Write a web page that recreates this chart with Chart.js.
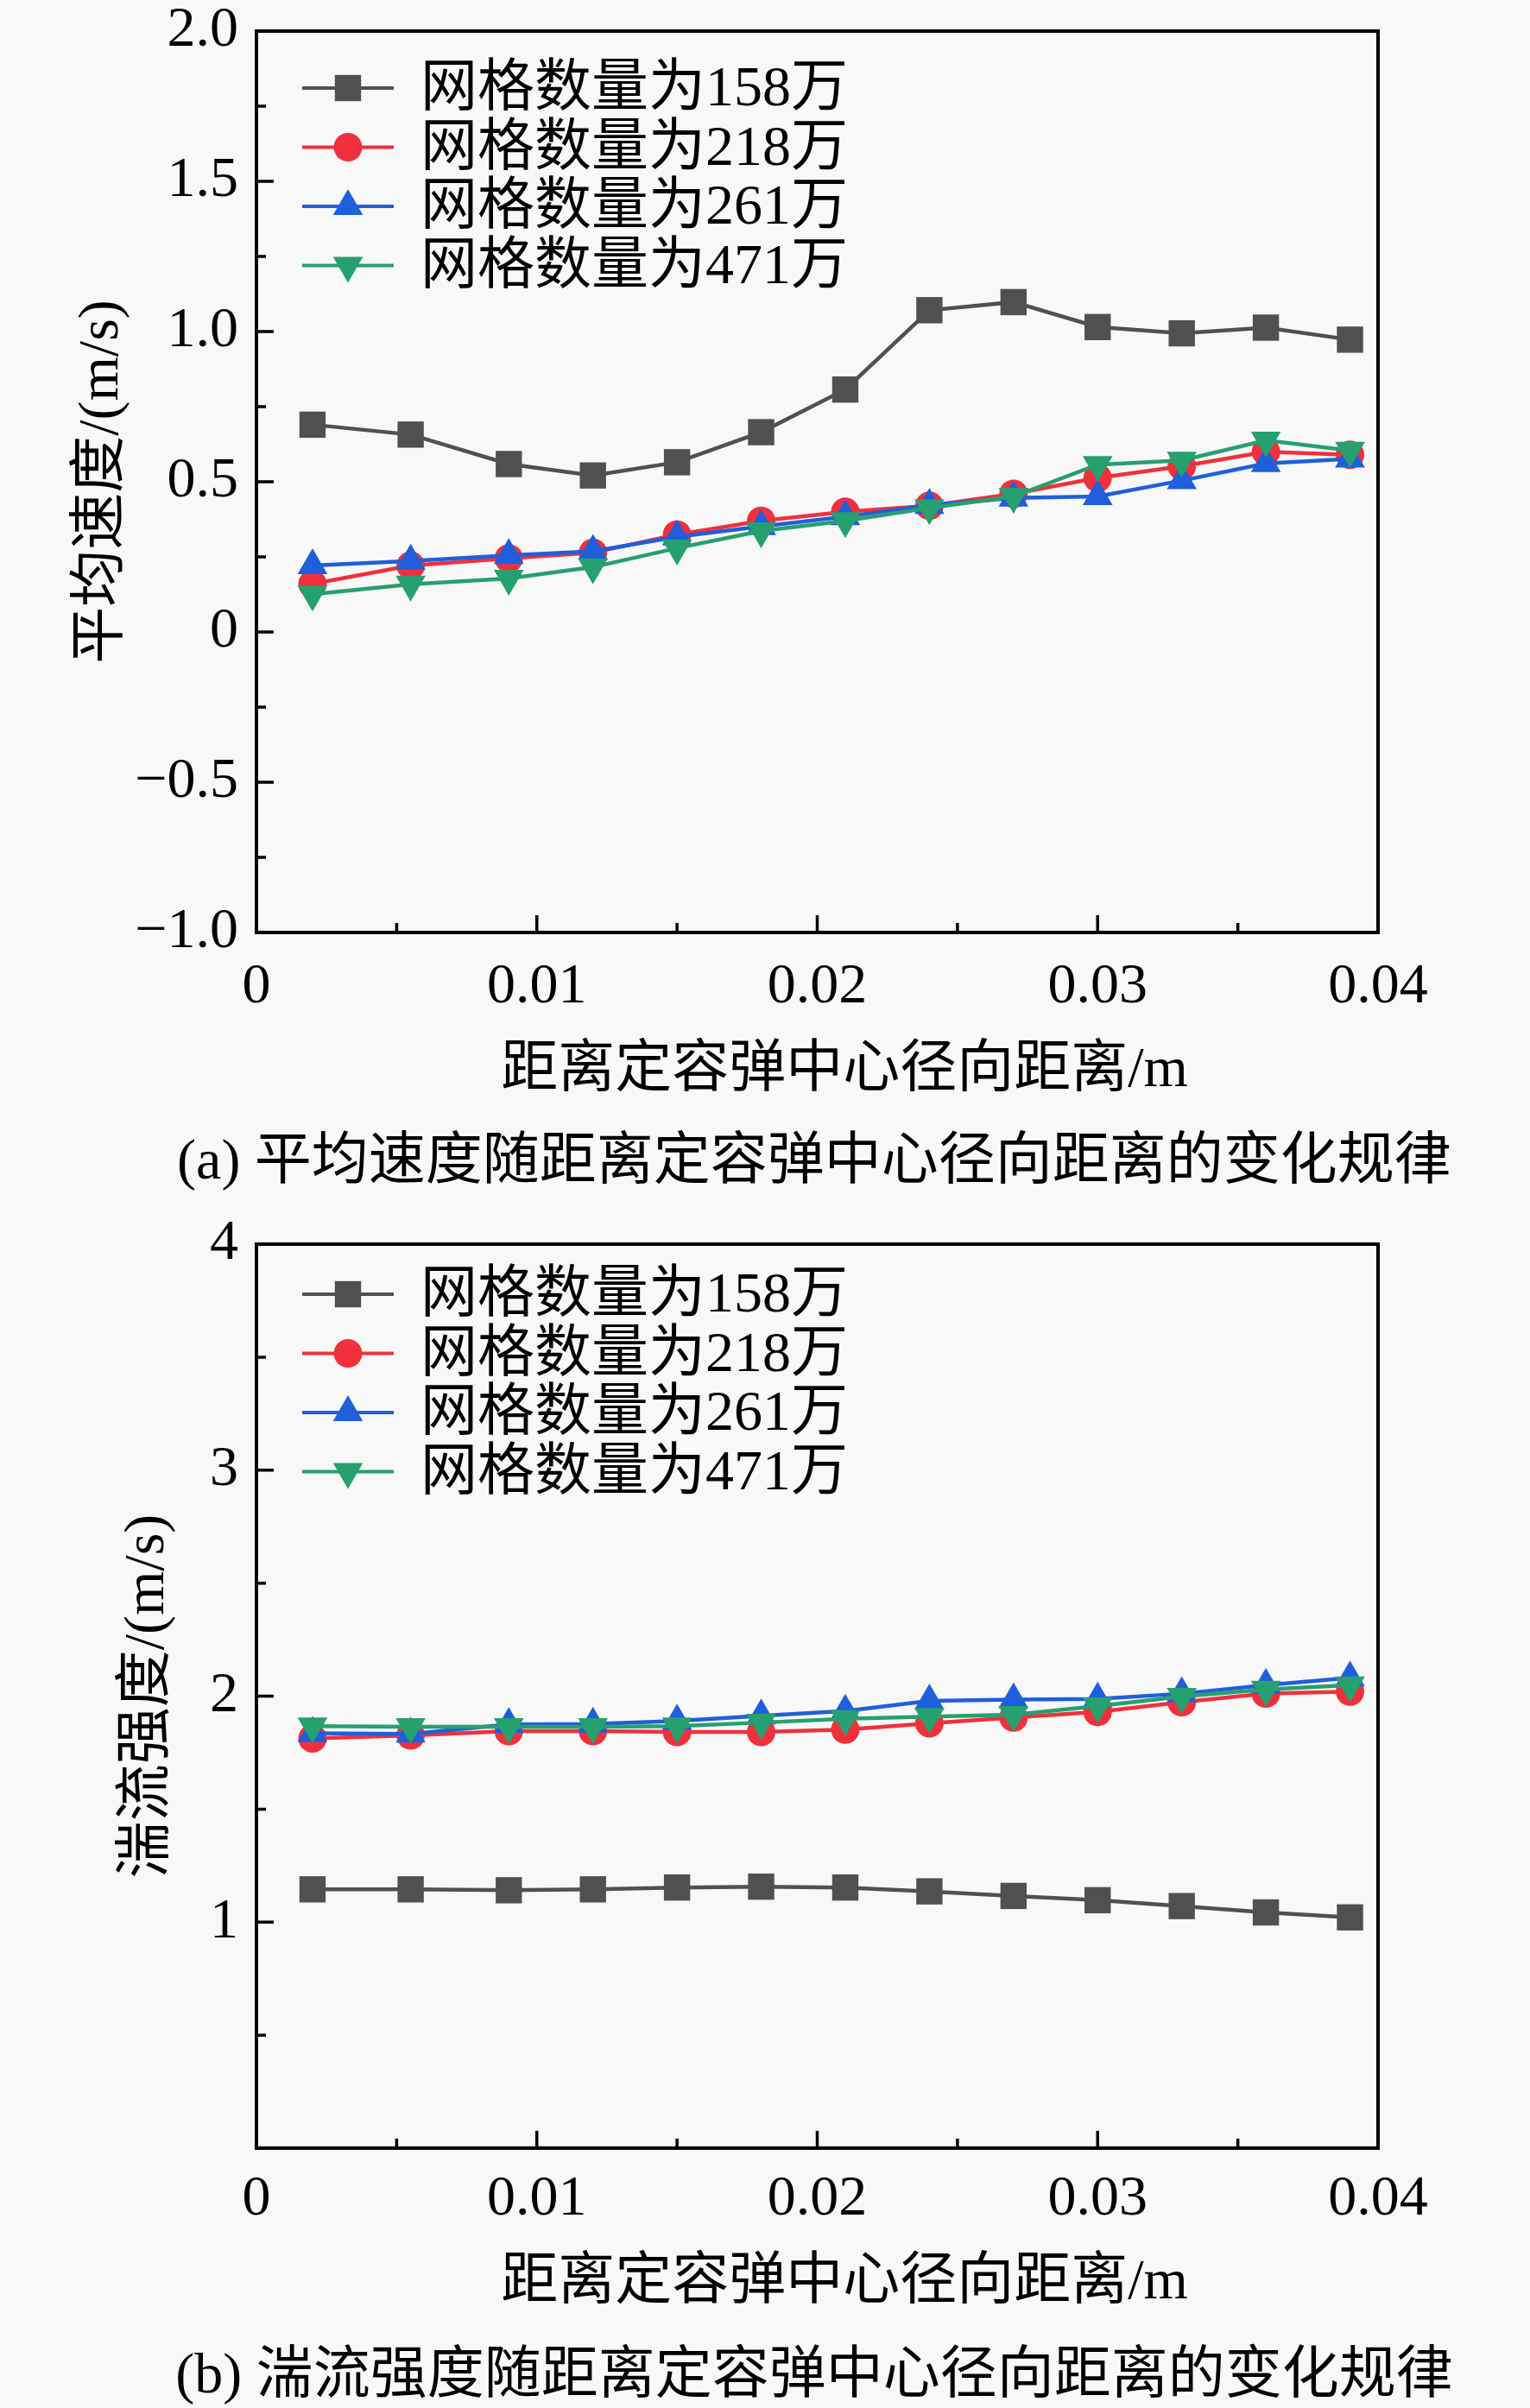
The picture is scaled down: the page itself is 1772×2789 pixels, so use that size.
<!DOCTYPE html>
<html>
<head>
<meta charset="utf-8">
<script src="https://cdn.jsdelivr.net/npm/chart.js@4.4.1/dist/chart.umd.min.js"></script>
<style>
  html, body { margin: 0; padding: 0; background: #f8f8f8; }
  #page { position: relative; width: 1772px; height: 2789px; overflow: hidden; }
  canvas { position: absolute; left: 0; }
  .cap { position: absolute; left: 0; width: 1886px; text-align: center; color: #000;
         font: 66px "Liberation Serif", "Noto Sans CJK SC"; line-height: 80px; white-space: nowrap; }
</style>
</head>
<body>
<div id="page">
  <canvas id="c1" width="1772" height="1395" style="top:0"></canvas>
  <canvas id="c2" width="1772" height="1394" style="top:1395px"></canvas>
  <div class="cap" style="top:1303px">(a) 平均速度随距离定容弹中心径向距离的变化规律</div>
  <div class="cap" style="top:2709px">(b) 湍流强度随距离定容弹中心径向距离的变化规律</div>
</div>
<script>
// radial positions (m)
const xPos = [0.002, 0.0055, 0.009, 0.012, 0.015, 0.018, 0.021, 0.024, 0.027, 0.030, 0.033, 0.036, 0.039];
const seriesNames = ['网格数量为158万', '网格数量为218万', '网格数量为261万', '网格数量为471万'];

// (a) mean velocity
const speed158 = [0.690, 0.657, 0.559, 0.521, 0.565, 0.665, 0.807, 1.071, 1.098, 1.015, 0.994, 1.013, 0.973];
const speed218 = [0.160, 0.221, 0.245, 0.264, 0.324, 0.370, 0.400, 0.420, 0.460, 0.513, 0.552, 0.600, 0.590];
const speed261 = [0.221, 0.236, 0.255, 0.269, 0.317, 0.351, 0.384, 0.422, 0.446, 0.451, 0.504, 0.561, 0.576];
const speed471 = [0.126, 0.159, 0.178, 0.216, 0.279, 0.336, 0.370, 0.413, 0.451, 0.557, 0.571, 0.638, 0.604];

// (b) turbulence intensity
const turb158 = [1.145, 1.145, 1.141, 1.145, 1.153, 1.157, 1.153, 1.136, 1.116, 1.097, 1.071, 1.043, 1.021];
const turb218 = [1.813, 1.826, 1.845, 1.845, 1.841, 1.841, 1.852, 1.880, 1.905, 1.930, 1.973, 2.011, 2.020];
const turb261 = [1.836, 1.833, 1.875, 1.877, 1.890, 1.913, 1.934, 1.979, 1.985, 1.988, 2.011, 2.049, 2.081];
const turb471 = [1.867, 1.864, 1.864, 1.864, 1.867, 1.883, 1.900, 1.909, 1.918, 1.956, 1.998, 2.030, 2.049];

// ticks
const xTicks = [0, 0.01, 0.02, 0.03, 0.04];
const xTickLabels = ['0', '0.01', '0.02', '0.03', '0.04'];
const xMinor = [0.005, 0.015, 0.025, 0.035];
const yTicksA = [-1, -0.5, 0, 0.5, 1, 1.5, 2];
const yTickLabelsA = ['\u22121.0', '\u22120.5', '0', '0.5', '1.0', '1.5', '2.0'];
const yMinorA = [-0.75, -0.25, 0.25, 0.75, 1.25, 1.75];
const yTicksB = [1, 2, 3, 4];
const yTickLabelsB = ['1', '2', '3', '4'];
const yMinorB = [0.5, 1.5, 2.5, 3.5];
const xTitle = '距离定容弹中心径向距离/m';

const colors = ['#505050', '#f0303c', '#1f5fdc', '#26a06e'];
const markers = ['rect', 'circle', 'triangle', 'triangle'];
const markerRot = [0, 0, 0, 180];
const markerR = [21.5, 16.5, 20, 20];
const FONT = '"Liberation Serif", "Noto Sans CJK SC"';

function drawMarker(ctx, i, x, y) {
  const r = markerR[i];
  ctx.beginPath();
  if (markers[i] === 'rect') {
    const s = r * Math.SQRT1_2;
    ctx.rect(x - s, y - s, 2 * s, 2 * s);
  } else if (markers[i] === 'circle') {
    ctx.arc(x, y, r, 0, Math.PI * 2);
  } else {
    let a = markerRot[i] * Math.PI / 180;
    for (let k = 0; k < 3; k++) {
      ctx.lineTo(x + Math.sin(a) * r, y - Math.cos(a) * r);
      a += Math.PI * 2 / 3;
    }
    ctx.closePath();
  }
  ctx.fillStyle = colors[i];
  ctx.fill();
}

// box frame, inward ticks, x title and the legend inside the plot
const framePlugin = {
  id: 'frame',
  afterDatasetsDraw(chart, args, opts) {
    const ctx = chart.ctx;
    const a = chart.chartArea;
    const xs = chart.scales.x, ys = chart.scales.y;
    ctx.save();
    ctx.strokeStyle = '#000';
    ctx.lineWidth = 4;
    ctx.strokeRect(a.left, a.top, a.right - a.left, a.bottom - a.top);
    ctx.lineWidth = 3.5;
    ctx.beginPath();
    xTicks.forEach(v => { const p = xs.getPixelForValue(v); ctx.moveTo(p, a.bottom); ctx.lineTo(p, a.bottom - 20); });
    xMinor.forEach(v => { const p = xs.getPixelForValue(v); ctx.moveTo(p, a.bottom); ctx.lineTo(p, a.bottom - 11); });
    opts.yMajor.forEach(v => { const p = ys.getPixelForValue(v); ctx.moveTo(a.left, p); ctx.lineTo(a.left + 20, p); });
    opts.yMinor.forEach(v => { const p = ys.getPixelForValue(v); ctx.moveTo(a.left, p); ctx.lineTo(a.left + 11, p); });
    ctx.stroke();

    ctx.fillStyle = '#000';
    ctx.font = '66px ' + FONT;
    ctx.textBaseline = 'middle';
    ctx.textAlign = 'center';
    ctx.fillText(xTitle, 978, opts.xTitleY);

    // legend
    ctx.textAlign = 'left';
    chart.data.datasets.forEach((ds, i) => {
      const y = a.top + opts.legendTop + i * 68.5;
      ctx.strokeStyle = colors[i];
      ctx.lineWidth = 4;
      ctx.beginPath();
      ctx.moveTo(350, y);
      ctx.lineTo(456, y);
      ctx.stroke();
      drawMarker(ctx, i, 403, y);
      ctx.fillStyle = '#000';
      ctx.fillText(ds.label, 487, y + 3);
    });
    ctx.restore();
  }
};

function makeChart(id, series, cfg) {
  const canvas = document.getElementById(id);
  const H = canvas.height;
  const datasets = series.map((vals, i) => ({
    label: seriesNames[i],
    data: xPos.map((x, k) => ({ x: x, y: vals[k] })),
    borderColor: colors[i],
    backgroundColor: colors[i],
    borderWidth: 4.5,
    pointStyle: markers[i],
    rotation: markerRot[i],
    pointRadius: markerR[i],
    pointBorderWidth: 0,
    pointBackgroundColor: colors[i],
    tension: 0,
    order: 3 - i
  }));
  const tickFont = { family: FONT, size: 66 };
  return new Chart(canvas, {
    type: 'line',
    data: { datasets: datasets },
    plugins: [framePlugin],
    options: {
      responsive: false,
      animation: false,
      devicePixelRatio: 1,
      layout: { padding: { left: cfg.padLeft, top: cfg.top, right: 1772 - 1596, bottom: 0 } },
      plugins: {
        legend: { display: false },
        tooltip: { enabled: false },
        frame: { yMajor: cfg.yTicks, yMinor: cfg.yMinor, legendTop: cfg.legendTop, xTitleY: cfg.xTitleY }
      },
      scales: {
        x: {
          type: 'linear', min: 0, max: 0.04,
          grid: { display: false, drawTicks: false },
          border: { display: false },
          afterBuildTicks: s => { s.ticks = xTicks.map(v => ({ value: v })); },
          afterFit: s => { s.height = H - cfg.bottom; },
          ticks: { padding: cfg.xTickPad, color: '#000', font: tickFont, maxRotation: 0, autoSkip: false,
                   callback: (v, i) => xTickLabels[i] }
        },
        y: {
          type: 'linear', min: cfg.yMin, max: cfg.yMax,
          grid: { display: false, drawTicks: false },
          border: { display: false },
          afterBuildTicks: s => { s.ticks = cfg.yTicks.map(v => ({ value: v })); },
          afterFit: s => { s.width = 297 - cfg.padLeft; s.paddingTop = 0; s.paddingBottom = 0; },
          ticks: { padding: 21, color: '#000', font: tickFont, autoSkip: false,
                   callback: (v, i) => cfg.yLabels[i] },
          title: { display: true, text: cfg.yTitle, color: '#000', font: tickFont,
                   padding: { top: 39, bottom: 0 } }
        }
      }
    }
  });
}

makeChart('c1', [speed158, speed218, speed261, speed471], {
  padLeft: 40, top: 36, bottom: 1080, xTickPad: 24, xTitleY: 1241, legendTop: 66,
  yMin: -1, yMax: 2, yTicks: yTicksA, yLabels: yTickLabelsA, yMinor: yMinorA,
  yTitle: '平均速度/(m/s)'
});

makeChart('c2', [turb158, turb218, turb261, turb471], {
  padLeft: 93, top: 46, bottom: 1093, xTickPad: 20, xTitleY: 1250, legendTop: 58,
  yMin: 0, yMax: 4, yTicks: yTicksB, yLabels: yTickLabelsB, yMinor: yMinorB,
  yTitle: '湍流强度/(m/s)'
});
</script>
</body>
</html>
